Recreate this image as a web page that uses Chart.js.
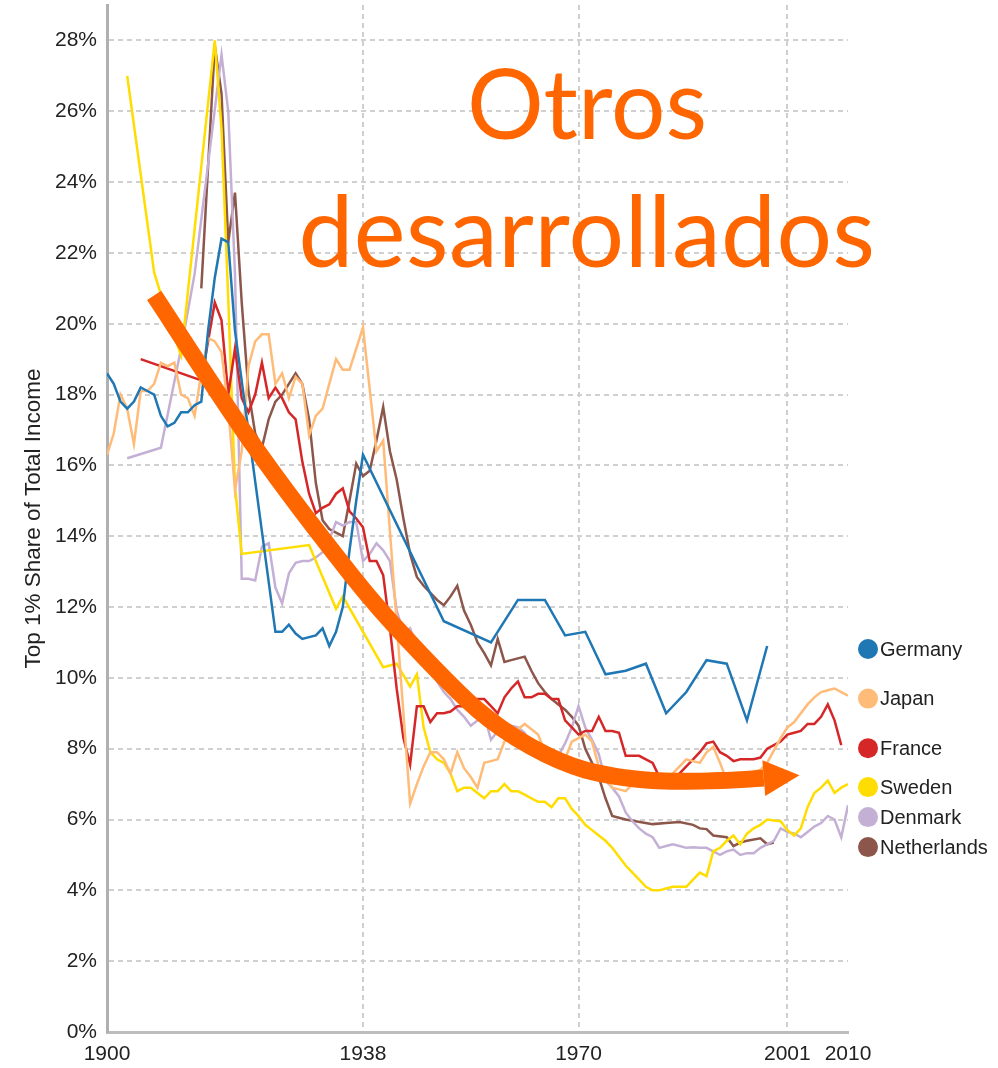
<!DOCTYPE html>
<html>
<head>
<meta charset="utf-8">
<script src="https://cdn.jsdelivr.net/npm/chart.js@4.4.1/dist/chart.umd.min.js"></script>
<style>
  html, body { margin: 0; padding: 0; background: #fff; }
  #wrap { position: relative; width: 998px; height: 1068px; }
  #myChart { position: absolute; left: 0; top: 0; }
  .big { position: absolute; left: 287px; width: 600px; text-align: center;
         font-family: 'Lato', 'Open Sans', sans-serif; line-height: 1;
         color: #ff6600; white-space: nowrap; }
</style>
</head>
<body>
<div id="wrap">
  <canvas id="myChart" width="998" height="1068"></canvas>
  <div class="big" style="top:54px; font-size:96px">Otros</div>
  <div class="big" style="top:180px; font-size:98px; letter-spacing:0.5px">desarrollados</div>
</div>
<script>
// tick values
var xTicks = [1900, 1938, 1970, 2001, 2010];
var xGridYears = [1938, 1970, 2001];
var yTicks = [0, 2, 4, 6, 8, 10, 12, 14, 16, 18, 20, 22, 24, 26, 28];

// series (year, top 1% share in %)
var germanyYears = [1900,1901,1902,1903,1904,1905,1906,1907,1908,1909,1910,1911,1912,1913,1914,1915,1916,1917,1918,1919,
  1925,1926,1927,1928,1929,1930,1931,1932,1933,1934,1935,1936,1937,1938,
  1950,1957,1961,1965,1968,1971,1974,1977,1980,1983,1986,1989,1992,1995,1998];
var germanyValues = [18.6,18.3,17.8,17.6,17.8,18.2,18.1,18.0,17.4,17.1,17.2,17.5,17.5,17.7,17.8,19.8,21.3,22.4,22.3,19.8,
  11.3,11.3,11.5,11.25,11.1,11.15,11.2,11.4,10.9,11.3,12.0,13.6,15.0,16.3,
  11.6,11.0,12.2,12.2,11.2,11.3,10.1,10.2,10.4,9.0,9.6,10.5,10.4,8.8,10.9];

var japanYears = [1900,1901,1902,1903,1904,1905,1906,1907,1908,1909,1910,1911,1912,1913,1914,1915,1916,1917,1918,1919,
  1920,1921,1922,1923,1924,1925,1926,1927,1928,1929,1930,1931,1932,1933,1934,1935,1936,1937,1938,1940,1941,
  1945,1946,1947,1948,1949,1950,1951,1952,1953,1954,1955,1956,1957,1958,1959,1960,1961,1962,1963,1964,1965,
  1966,1967,1968,1969,1970,1971,1972,1973,1974,1975,1976,1977,1978,1979,1980,1981,1982,1983,1984,1985,
  1986,1987,1988,1989,1990,1991,1992,1993,1994,1995,1996,1997,1998,1999,2000,2001,2002,2003,2004,2005,
  2006,2007,2008,2009,2010];
var japanValues = [16.3,16.9,18.0,17.6,16.6,18.1,18.1,18.3,18.9,18.8,18.9,18.0,17.9,17.4,18.6,19.6,19.5,19.2,17.6,15.3,
  16.4,18.8,19.5,19.7,19.7,18.3,18.6,17.9,18.5,18.3,16.85,17.4,17.6,18.3,19.0,18.7,18.7,19.3,19.9,16.4,16.7,
  6.45,7.0,7.5,7.9,7.9,7.7,7.3,7.9,7.45,7.2,6.9,7.6,7.65,7.7,8.2,8.35,8.55,8.7,8.55,8.4,7.9,
  7.85,7.8,7.7,8.2,8.3,8.4,8.2,7.5,7.2,6.9,6.85,6.8,7.0,7.25,7.15,7.05,7.1,7.2,7.3,7.5,
  7.7,7.65,7.6,7.9,8.05,7.6,7.1,7.1,7.1,7.3,7.35,7.4,7.6,7.95,8.3,8.6,8.75,9.0,9.25,9.45,
  9.6,9.65,9.7,9.6,9.5];

var franceYears = [1905,1914,1916,1917,1918,1919,1920,1921,1922,1923,1924,1925,1926,1927,1928,1929,1930,1931,1932,1933,
  1934,1935,1936,1937,1938,1939,1940,1941,1942,1943,1944,1945,1946,1947,1948,1949,1950,1951,1952,1953,
  1954,1955,1956,1957,1958,1959,1960,1961,1962,1963,1964,1965,1966,1967,1968,1969,1970,1971,1972,1973,
  1974,1975,1976,1977,1978,1979,1980,1981,1982,1983,1984,1985,1986,1987,1988,1989,1990,1991,1992,1993,
  1994,1995,1996,1997,1998,1999,2000,2001,2002,2003,2004,2005,2006,2007,2008,2009];
var franceValues = [19.0,18.4,20.6,20.1,18.0,19.3,17.9,17.5,18.0,18.9,17.9,18.2,17.9,17.5,17.3,16.1,15.2,14.65,14.8,14.9,
  15.2,15.35,14.7,14.5,14.25,13.3,13.3,12.9,11.4,9.7,8.3,7.55,9.2,9.2,8.75,9.0,9.0,9.05,9.2,9.2,
  9.2,9.4,9.4,9.2,9.0,9.45,9.7,9.9,9.45,9.45,9.55,9.55,9.4,9.4,8.8,8.6,8.4,8.5,8.5,8.9,
  8.5,8.5,8.45,7.8,7.8,7.8,7.7,7.6,7.2,7.1,7.1,7.3,7.5,7.7,7.9,8.15,8.2,7.9,7.8,7.65,
  7.7,7.7,7.7,7.75,8.0,8.1,8.2,8.4,8.45,8.5,8.7,8.7,8.9,9.25,8.8,8.1];

var swedenYears = [1903,1907,1909,1911,1916,1917,1918,1919,1920,1930,1934,1935,1941,1943,1945,1946,1947,1948,1949,1950,
  1951,1952,1953,1954,1955,1956,1957,1958,1959,1960,1961,1962,1963,1964,1965,1966,1967,1968,1969,1970,
  1971,1972,1973,1974,1975,1976,1977,1978,1979,1980,1981,1982,1983,1984,1985,1986,1987,1988,1989,1990,
  1991,1992,1993,1994,1995,1996,1997,1998,1999,2000,2001,2002,2003,2004,2005,2006,2007,2008,2009,2010];
var swedenValues = [27.0,21.45,20.2,19.1,28.0,25.5,20.7,15.4,13.5,13.75,11.95,12.3,10.3,10.4,9.75,10.1,8.6,7.9,7.7,7.6,
  7.3,6.8,6.9,6.9,6.75,6.6,6.8,6.8,7.0,6.8,6.8,6.7,6.6,6.5,6.5,6.35,6.6,6.6,6.3,6.1,
  5.85,5.7,5.55,5.4,5.2,4.95,4.7,4.5,4.3,4.1,4.0,4.0,4.05,4.1,4.1,4.1,4.3,4.5,4.4,5.1,
  5.2,5.4,5.55,5.3,5.6,5.75,5.85,6.0,5.97,5.95,5.7,5.55,5.75,6.35,6.75,6.9,7.1,6.75,6.9,7.0];

var denmarkYears = [1903,1908,1911,1913,1917,1918,1919,1920,1921,1922,1923,1924,1925,1926,1927,1928,1929,1930,1931,1932,
  1933,1934,1935,1936,1937,1938,1939,1940,1941,1942,1943,1944,1945,1946,1947,1948,1949,1950,1951,1952,
  1953,1954,1956,1957,1958,1959,1960,1961,1962,1963,1964,1965,1966,1967,1968,1969,1970,1971,1972,1973,
  1974,1975,1976,1977,1978,1979,1980,1981,1982,1983,1984,1985,1986,1987,1988,1989,1990,1991,1992,1993,
  1994,1995,1996,1997,1998,1999,2000,2001,2002,2003,2004,2005,2006,2007,2008,2009,2010];
var denmarkValues = [16.2,16.5,19.3,21.4,27.6,26.0,21.4,12.8,12.8,12.75,13.7,13.8,12.55,12.1,12.95,13.25,13.3,13.3,13.4,13.55,
  13.9,14.4,14.3,14.4,14.4,13.3,13.5,13.8,13.6,13.3,11.9,11.3,11.4,10.85,10.6,10.3,9.9,9.6,9.4,9.1,
  8.9,8.65,8.95,8.25,8.5,8.7,8.65,8.6,8.45,8.1,7.9,7.8,7.8,7.8,8.15,8.6,9.2,8.6,8.25,7.85,
  7.1,6.9,6.65,6.2,5.95,5.75,5.6,5.5,5.2,5.25,5.3,5.25,5.2,5.22,5.2,5.2,5.1,5.0,5.1,5.15,
  5.0,5.05,5.05,5.2,5.3,5.4,5.75,5.65,5.6,5.5,5.65,5.8,5.9,6.1,6.0,5.5,6.4];

var netherlandsYears = [1914,1916,1917,1918,1919,1920,1921,1922,1923,1924,1925,1926,1927,1928,1929,1930,1931,1932,1933,1934,
  1935,1936,1937,1938,1939,1940,1941,1942,1943,1944,1945,1946,1947,1948,1949,1950,1951,1952,1953,1954,
  1955,1956,1957,1958,1959,1960,1961,1962,1963,1964,1965,1966,1967,1968,1969,1970,1971,1972,1973,1974,
  1975,1976,1977,1981,1983,1985,1987,1988,1989,1990,1992,1993,1994,1995,1997,1998,1999];
var netherlandsValues = [21.0,27.85,26.5,22.3,23.7,20.6,18.1,16.9,16.5,17.3,17.8,18.0,18.3,18.6,18.3,17.3,15.5,14.45,14.2,14.1,
  14.0,15.0,16.05,15.7,15.85,16.7,17.65,16.4,15.6,14.5,13.5,12.85,12.6,12.4,12.2,12.05,12.3,12.6,11.9,11.5,
  11.0,10.7,10.35,11.1,10.45,10.5,10.55,10.6,10.2,9.85,9.6,9.4,9.25,9.1,8.9,8.65,8.0,7.6,7.2,6.6,
  6.1,6.05,6.0,5.87,5.9,5.93,5.85,5.75,5.73,5.55,5.5,5.25,5.35,5.4,5.47,5.3,5.35];

// the hand drawn trend arrow, in chart units (year, %)
var arrowYears = [1907, 1922, 1936.5, 1945, 1955, 1963, 1971, 1981, 1991, 1997.5];
var arrowValues = [20.8, 16.5, 12.85, 11.0, 9.1, 8.05, 7.4, 7.1, 7.1, 7.17];
var arrowTip = [2002.8, 7.25];

function pts(xs, ys) {
  var a = [];
  for (var i = 0; i < xs.length; i++) {
    a.push({x: xs[i], y: ys[i]});
  }
  return a;
}

function line(label, color, xs, ys) {
  return {
    label: label,
    data: pts(xs, ys),
    borderColor: color,
    backgroundColor: color,
    borderWidth: 2.5,
    pointRadius: 0,
    tension: 0,
    fill: false
  };
}

// labels at the end of each line, pushed apart when they collide
var endLabels = {
  id: 'endLabels',
  afterDatasetsDraw: function(chart) {
    var c = chart.ctx;
    var ys = chart.scales.y;
    var prev = -1000;
    c.save();
    chart.data.datasets.forEach(function(ds) {
      var last = ds.data[ds.data.length - 1];
      var py = ys.getPixelForValue(last.y) + 3;
      if (py < prev + 30) py = prev + 30;
      prev = py;
      c.beginPath();
      c.arc(868, py, 10, 0, Math.PI * 2);
      c.fillStyle = ds.borderColor;
      c.fill();
      c.fillStyle = '#222';
      c.font = '20px "Liberation Sans", Arial, sans-serif';
      c.textBaseline = 'middle';
      c.textAlign = 'left';
      c.fillText(ds.label, 880, py + 1);
    });
    c.restore();
  }
};

var trendArrow = {
  id: 'trendArrow',
  afterDraw: function(chart) {
    var c = chart.ctx;
    var xs = chart.scales.x, ys = chart.scales.y;
    var p = [];
    for (var i = 0; i < arrowYears.length; i++) {
      p.push([xs.getPixelForValue(arrowYears[i]), ys.getPixelForValue(arrowValues[i])]);
    }
    var tip = [xs.getPixelForValue(arrowTip[0]), ys.getPixelForValue(arrowTip[1])];
    c.save();
    c.strokeStyle = '#ff6600';
    c.fillStyle = '#ff6600';
    c.lineWidth = 17;
    c.lineCap = 'butt';
    c.lineJoin = 'round';
    c.beginPath();
    c.moveTo(p[0][0], p[0][1]);
    for (var k = 0; k < p.length - 1; k++) {
      var p0 = p[k - 1] || p[k], p1 = p[k], p2 = p[k + 1], p3 = p[k + 2] || p[k + 1];
      c.bezierCurveTo(p1[0] + (p2[0] - p0[0]) / 6, p1[1] + (p2[1] - p0[1]) / 6,
                      p2[0] - (p3[0] - p1[0]) / 6, p2[1] - (p3[1] - p1[1]) / 6,
                      p2[0], p2[1]);
    }
    c.stroke();
    var b = p[p.length - 1];
    var dx = tip[0] - b[0], dy = tip[1] - b[1];
    var len = Math.sqrt(dx * dx + dy * dy);
    var nx = -dy / len * 18, ny = dx / len * 18;
    c.beginPath();
    c.moveTo(tip[0], tip[1]);
    c.lineTo(b[0] + nx, b[1] + ny);
    c.lineTo(b[0] - nx, b[1] - ny);
    c.closePath();
    c.fill();
    c.restore();
  }
};

var tickFont = {family: '"Liberation Sans", Arial, sans-serif', size: 21};

var ctx = document.getElementById('myChart').getContext('2d');
var chart = new Chart(ctx, {
  type: 'line',
  data: {
    datasets: [
      line('Germany', '#1f77b4', germanyYears, germanyValues),
      line('Japan', '#ffbb78', japanYears, japanValues),
      line('France', '#d62728', franceYears, franceValues),
      line('Sweden', '#ffdd00', swedenYears, swedenValues),
      line('Denmark', '#c5b0d5', denmarkYears, denmarkValues),
      line('Netherlands', '#8c564b', netherlandsYears, netherlandsValues)
    ]
  },
  options: {
    responsive: false,
    animation: false,
    events: [],
    layout: {padding: {top: 5, right: 150, left: 0, bottom: 0}},
    scales: {
      x: {
        type: 'linear',
        min: 1900,
        max: 2010,
        afterBuildTicks: function(scale) {
          scale.ticks = xTicks.map(function(v) { return {value: v}; });
        },
        afterFit: function(scale) { scale.height = 36; },
        ticks: {
          autoSkip: false,
          maxRotation: 0,
          padding: 10,
          color: '#222',
          font: tickFont,
          callback: function(value) { return String(value); }
        },
        grid: {
          drawTicks: false,
          lineWidth: 2,
          color: function(c) {
            return (c.tick && xGridYears.indexOf(c.tick.value) >= 0) ? '#cfcfcf' : 'rgba(0,0,0,0)';
          }
        },
        border: {display: true, color: '#bdbdbd', width: 3, dash: [5, 4]}
      },
      y: {
        min: 0,
        max: 29,
        afterBuildTicks: function(scale) {
          scale.ticks = yTicks.map(function(v) { return {value: v}; });
        },
        afterFit: function(scale) {
          scale.width = 107;
          scale.paddingTop = 0;
        },
        ticks: {
          padding: 10,
          color: '#222',
          font: tickFont,
          callback: function(value) { return value + '%'; }
        },
        grid: {drawTicks: false, lineWidth: 2, color: '#d0d0d0'},
        border: {display: true, color: '#b0b0b0', width: 3, dash: [5, 4]},
        title: {
          display: true,
          text: 'Top 1% Share of Total Income',
          color: '#222',
          font: {family: '"Liberation Sans", Arial, sans-serif', size: 22.5},
          padding: {top: 20, bottom: 0}
        }
      }
    },
    plugins: {
      legend: {display: false},
      tooltip: {enabled: false}
    }
  },
  plugins: [endLabels, trendArrow]
});
</script>
</body>
</html>
